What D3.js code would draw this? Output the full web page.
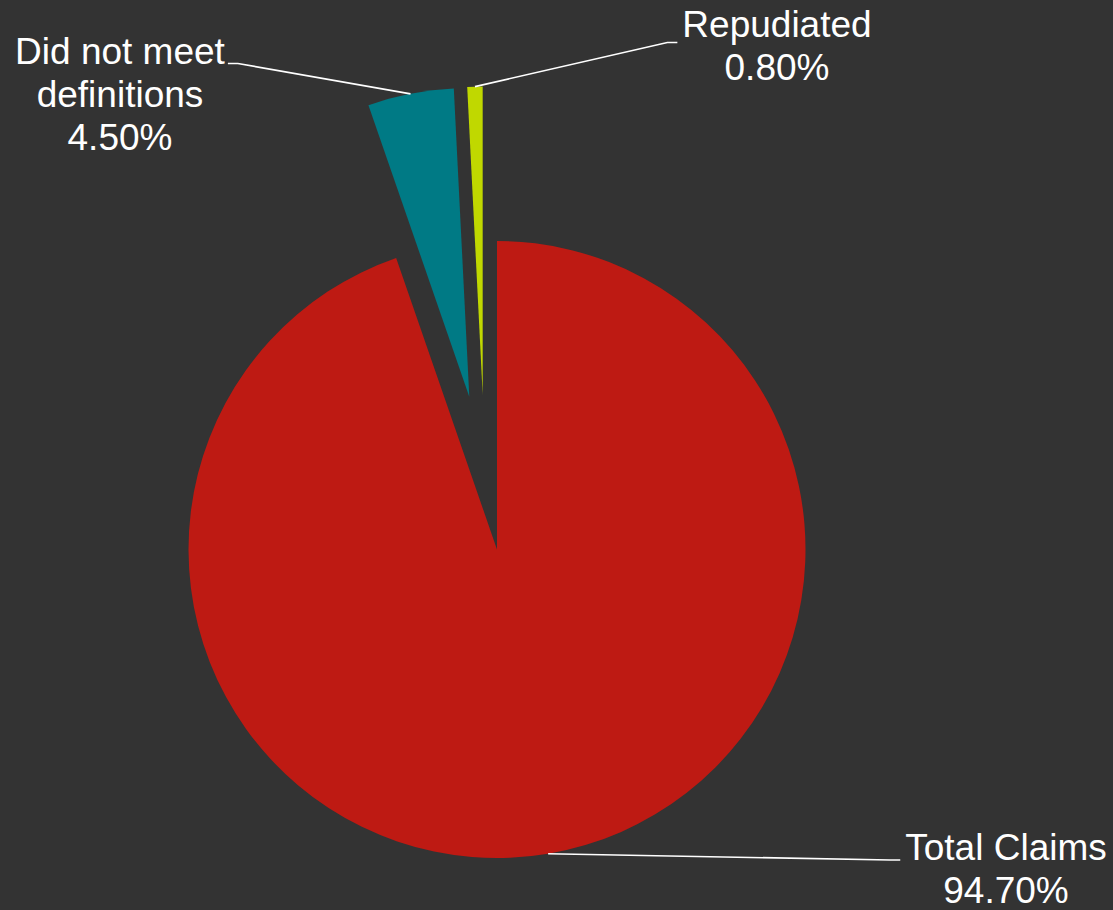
<!DOCTYPE html>
<html>
<head>
<meta charset="utf-8">
<script src="https://cdn.jsdelivr.net/npm/d3@7"></script>
<style>
  html, body { margin: 0; padding: 0; background: #333333; }
  svg { display: block; }
</style>
</head>
<body>
<svg id="chart" width="1113" height="910"></svg>
<script>
// Claim outcomes, share of all claims (%)
const categories = ["Total Claims", "Did not meet definitions", "Repudiated"];
const shares = [94.7, 4.5, 0.8];
const sliceColors = ["#BE1A13", "#007A85", "#C0D800"];

// Layout
const W = 1113, H = 910;
const cx = 497, cy = 549.5, radius = 308.5;
const fontSize = 37, lineHeight = 43, wrapWidth = 225;
// exploded slices are pushed away from the pie centre by these offsets
const explode = [[0, 0], [-27.7, -152.8], [-14.3, -154.5]];
// label anchor: centre x, first baseline y, side the leader enters from,
// and vertical shift of the leader's horizontal tail relative to the baseline
const labelPos = [
  { x: 1006, y: 860, side: "left", elbow: 10, dy: 0 },
  { x: 120, y: 63.5, side: "right", elbow: 10, dy: 0 },
  { x: 777, y: 36.5, side: "left", elbow: 10, dy: 6 }
];

const svg = d3.select("#chart");
svg.append("rect").attr("width", W).attr("height", H).attr("fill", "#333333");

const pie = d3.pie().sort(null).value(d => d.v).startAngle(0).endAngle(2 * Math.PI);
const rows = categories.map((c, i) => ({ name: c, v: shares[i], i }));
const arcs = pie(rows);
const arc = d3.arc().innerRadius(0).outerRadius(radius);

const g = svg.append("g").attr("transform", `translate(${cx},${cy})`);

g.selectAll("path.slice")
  .data(arcs)
  .join("path")
  .attr("class", "slice")
  .attr("transform", d => `translate(${explode[d.data.i][0]},${explode[d.data.i][1]})`)
  .attr("d", arc)
  .attr("fill", d => sliceColors[d.data.i]);

const fmt = d3.format(".2f");

// word-wrap helper using a hidden probe text element
const probe = svg.append("text")
  .attr("font-family", "'Liberation Sans', Arial, sans-serif")
  .attr("font-size", fontSize)
  .attr("visibility", "hidden");
function measure(s) {
  probe.text(s);
  return probe.node().getComputedTextLength();
}
function wrap(text) {
  const words = text.split(" ");
  const lines = [];
  let cur = "";
  words.forEach(w => {
    const t = cur ? cur + " " + w : w;
    if (measure(t) > wrapWidth && cur) {
      lines.push(cur);
      cur = w;
    } else {
      cur = t;
    }
  });
  if (cur) lines.push(cur);
  return lines;
}

arcs.forEach(d => {
  const i = d.data.i;
  const mid = (d.startAngle + d.endAngle) / 2;
  // leader starts at the middle of the slice's outer arc
  const ax = cx + explode[i][0] + radius * Math.sin(mid);
  const ay = cy + explode[i][1] - radius * Math.cos(mid);

  const lines = wrap(d.data.name);
  lines.push(fmt(d.data.v) + "%");

  const lp = labelPos[i];
  const firstW = measure(lines[0]);
  const edgeX = lp.side === "left" ? lp.x - firstW / 2 - 5 : lp.x + firstW / 2 + 3;
  const elbowX = lp.side === "left" ? edgeX - lp.elbow : edgeX + lp.elbow;
  const leaderY = lp.y + lp.dy;

  svg.append("polyline")
    .attr("points", `${ax},${ay} ${elbowX},${leaderY} ${edgeX},${leaderY}`)
    .attr("fill", "none")
    .attr("stroke", "#FFFFFF")
    .attr("stroke-width", 1.6);

  const t = svg.append("text")
    .attr("font-family", "'Liberation Sans', Arial, sans-serif")
    .attr("font-size", fontSize)
    .attr("fill", "#FFFFFF")
    .attr("text-anchor", "middle");
  lines.forEach((ln, k) => {
    t.append("tspan").attr("x", lp.x).attr("y", lp.y + k * lineHeight).text(ln);
  });
});
probe.remove();
</script>
</body>
</html>
